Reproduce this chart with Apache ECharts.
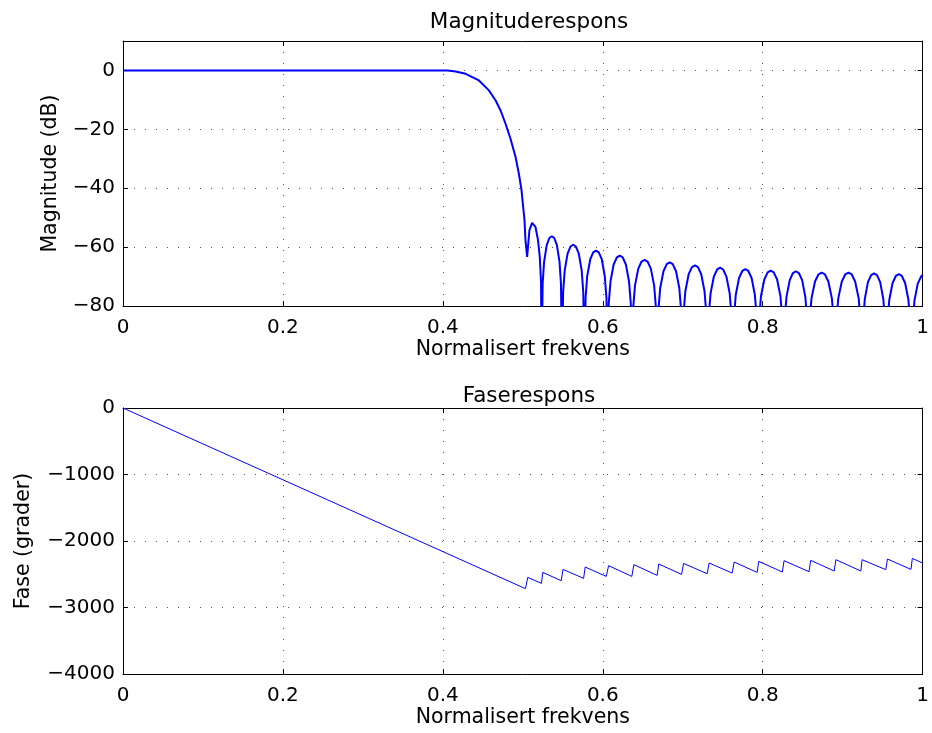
<!DOCTYPE html>
<html>
<head>
<meta charset="utf-8">
<script src="https://cdn.jsdelivr.net/npm/echarts@6/dist/echarts.min.js"></script>
<style>
html,body{margin:0;padding:0;background:#fff;}
#c{width:932px;height:733px;}
</style>
</head>
<body>
<div id="c"></div>
<script>
// ---- Data ----
// Magnitude response (dB) vs normalised frequency
var magX = [0, 0.40, 0.4057, 0.416, 0.4285, 0.4451, 0.4576, 0.466, 0.4722, 0.4784, 0.4846, 0.4909, 0.495, 0.4984, 0.5004, 0.5021, 0.5033, 0.5054,
  0.5083, 0.5116, 0.5158, 0.519, 0.5212, 0.5228, 0.5235,
  0.5248, 0.5266, 0.5299, 0.5332, 0.5363, 0.5393, 0.5426, 0.5459, 0.5477, 0.549,
  0.5504, 0.5524, 0.556, 0.5596, 0.563, 0.5664, 0.57, 0.5736, 0.5756, 0.577,
  0.5785, 0.5805, 0.5843, 0.588, 0.5915, 0.595, 0.5988, 0.6025, 0.6046, 0.606,
  0.6075, 0.6097, 0.6136, 0.6176, 0.6213, 0.6249, 0.6289, 0.6328, 0.635, 0.6365,
  0.6381, 0.6403, 0.6444, 0.6485, 0.6523, 0.656, 0.6601, 0.6642, 0.6664, 0.668,
  0.6696, 0.6718, 0.6759, 0.68, 0.6838, 0.6875, 0.6916, 0.6957, 0.6979, 0.6995,
  0.7011, 0.7033, 0.7074, 0.7115, 0.7153, 0.719, 0.7231, 0.7272, 0.7294, 0.731,
  0.7326, 0.7348, 0.7389, 0.743, 0.7468, 0.7505, 0.7546, 0.7587, 0.7609, 0.7625,
  0.7641, 0.7663, 0.7704, 0.7745, 0.7783, 0.782, 0.7861, 0.7902, 0.7924, 0.794,
  0.7956, 0.7978, 0.802, 0.8062, 0.81, 0.8138, 0.818, 0.8222, 0.8244, 0.826,
  0.8276, 0.8297, 0.8338, 0.8378, 0.8415, 0.8452, 0.8493, 0.8533, 0.8555, 0.857,
  0.8587, 0.861, 0.8654, 0.8697, 0.8738, 0.8778, 0.8821, 0.8865, 0.8888, 0.8905,
  0.8922, 0.8945, 0.8989, 0.9032, 0.9073, 0.9113, 0.9156, 0.92, 0.9223, 0.924,
  0.9255, 0.9277, 0.9316, 0.9356, 0.9393, 0.9429, 0.9469, 0.9508, 0.953, 0.9545,
  0.9561, 0.9583, 0.9624, 0.9665, 0.9703, 0.974, 0.9781, 0.9822, 0.9844, 0.986,
  0.9876, 0.9898, 0.9939, 0.998, 1.0];
var magY = [0, 0, 0, -0.34, -1.13, -3.39, -6.78, -10.2, -13.6, -18.1, -23.2, -29.4, -35.0, -40.7, -46.3, -50.8, -57.6, -63.3,
  -54.2, -51.8, -53.1, -57.6, -63.3, -72, -100,
  -72.4, -65.0, -59.3, -56.9, -56.3, -56.9, -59.3, -65.0, -72.4, -100,
  -75.3, -67.9, -62.2, -59.8, -59.2, -59.8, -62.2, -67.9, -75.3, -100,
  -77.3, -69.9, -64.2, -61.8, -61.2, -61.8, -64.2, -69.9, -77.3, -100,
  -79.0, -71.6, -65.9, -63.5, -62.9, -63.5, -65.9, -71.6, -79.0, -100,
  -80.4, -73.0, -67.3, -64.9, -64.3, -64.9, -67.3, -73.0, -80.4, -100,
  -81.3, -73.9, -68.2, -65.8, -65.2, -65.8, -68.2, -73.9, -81.3, -100,
  -82.3, -74.9, -69.2, -66.8, -66.2, -66.8, -69.2, -74.9, -82.3, -100,
  -83.1, -75.7, -70.0, -67.6, -67.0, -67.6, -70.0, -75.7, -83.1, -100,
  -83.6, -76.2, -70.5, -68.1, -67.5, -68.1, -70.5, -76.2, -83.6, -100,
  -84.1, -76.7, -71.0, -68.6, -68.0, -68.6, -71.0, -76.7, -84.1, -100,
  -84.3, -76.9, -71.2, -68.8, -68.2, -68.8, -71.2, -76.9, -84.3, -100,
  -84.8, -77.4, -71.7, -69.3, -68.7, -69.3, -71.7, -77.4, -84.8, -100,
  -84.8, -77.4, -71.7, -69.3, -68.7, -69.3, -71.7, -77.4, -84.8, -100,
  -85.0, -77.6, -71.9, -69.5, -68.9, -69.5, -71.9, -77.6, -85.0, -100,
  -85.3, -77.9, -72.2, -69.8, -69.2, -69.8, -72.2, -77.9, -85.3, -100,
  -85.5, -78.1, -72.4, -70.0, -69.5];

// Phase response (degrees) vs normalised frequency
var phaseX = [0, 0.5033, 0.5062, 0.5233, 0.525, 0.548, 0.5503, 0.576, 0.578, 0.6043, 0.6073, 0.6363, 0.6389, 0.668, 0.67, 0.6986, 0.701,
  0.7306, 0.733, 0.7618, 0.7643, 0.793, 0.795, 0.8246, 0.8267, 0.8579, 0.86, 0.8894, 0.8915, 0.9227, 0.9243, 0.9539, 0.956, 0.9854, 0.9871, 1.0];
var phaseY = [0, -2717, -2547, -2637, -2472, -2597, -2427, -2562, -2391, -2532, -2371, -2532, -2356, -2517, -2346, -2502, -2337,
  -2492, -2331, -2482, -2316, -2472, -2306, -2466, -2296, -2461, -2291, -2451, -2281, -2451, -2281, -2431, -2271, -2427, -2262, -2331];

var xTicks = [0, 0.2, 0.4, 0.6, 0.8, 1];
var magTicks = [-80, -60, -40, -20, 0];
var phaseTicks = [-4000, -3000, -2000, -1000, 0];

var titles = ['Magnituderespons', 'Faserespons'];
var xName = 'Normalisert frekvens';
var yNames = ['Magnitude (dB)', 'Fase (grader)'];

// ---- Chart ----
function pairs(xs, ys) { var o = []; for (var i = 0; i < xs.length; i++) o.push([xs[i], ys[i]]); return o; }
function fmt(v) { return String(v).replace('-', '\u2212'); }

var FONT = 'DejaVu Sans, Liberation Sans, Arial, sans-serif';
var gridLine = { show: true, lineStyle: { color: '#555', width: 1, type: [1, 10] } };
var axLine = { show: true, onZero: false, lineStyle: { color: '#000', width: 1 } };
var tick = { show: true, inside: true, length: 5, lineStyle: { color: '#000' } };
var lblStyle = { color: '#000', fontFamily: FONT, fontSize: 20 };
var nameStyle = { color: '#000', fontFamily: FONT, fontSize: 20.5 };

function xAx(gi, pos) {
  var main = pos === 'bottom';
  return {
    type: 'value', gridIndex: gi, position: pos, min: 0, max: 1, interval: xTicks[1] - xTicks[0],
    axisLine: axLine, axisTick: tick,
    splitLine: main ? gridLine : { show: false },
    axisLabel: main ? Object.assign({ show: true, margin: 12, formatter: function (v) { return fmt(v); } }, lblStyle) : { show: false },
    name: main ? xName : '', nameLocation: 'middle', nameGap: 33,
    nameTextStyle: nameStyle
  };
}
function yAx(gi, pos, ticks, max) {
  var main = pos === 'left';
  return {
    type: 'value', gridIndex: gi, position: pos, min: ticks[0], max: max, interval: ticks[1] - ticks[0],
    axisLine: axLine, axisTick: tick,
    splitLine: main ? gridLine : { show: false },
    axisLabel: main ? Object.assign({ show: true, margin: 8, showMaxLabel: max === ticks[ticks.length - 1],
      formatter: function (v) { return v > ticks[ticks.length - 1] ? '' : fmt(v); } }, lblStyle) : { show: false },
    name: main ? yNames[gi] : '', nameLocation: 'middle', nameRotate: 90,
    nameGap: gi === 0 ? 62 : 89,
    nameTextStyle: nameStyle
  };
}

var chart = echarts.init(document.getElementById('c'), null, { renderer: 'canvas' });
chart.setOption({
  backgroundColor: '#fff',
  animation: false,
  title: [
    { text: titles[0], left: 524, top: 6, textAlign: 'center', textStyle: { color: '#000', fontFamily: FONT, fontSize: 21.5, fontWeight: 'normal' } },
    { text: titles[1], left: 524, top: 380, textAlign: 'center', textStyle: { color: '#000', fontFamily: FONT, fontSize: 21.5, fontWeight: 'normal' } }
  ],
  grid: [
    { left: 123, top: 41, width: 802, height: 265, containLabel: false },
    { left: 123, top: 408, width: 802, height: 266, containLabel: false }
  ],
  xAxis: [xAx(0, 'bottom'), xAx(0, 'top'), xAx(1, 'bottom'), xAx(1, 'top')],
  yAxis: [yAx(0, 'left', magTicks, 10), yAx(0, 'right', magTicks, 10), yAx(1, 'left', phaseTicks, 0), yAx(1, 'right', phaseTicks, 0)],
  series: [
    { type: 'line', xAxisIndex: 0, yAxisIndex: 0, data: pairs(magX, magY), showSymbol: false, clip: true,
      lineStyle: { color: '#0000ff', width: 2 }, itemStyle: { color: '#0000ff' } },
    { type: 'line', xAxisIndex: 2, yAxisIndex: 2, data: pairs(phaseX, phaseY), showSymbol: false, clip: true,
      lineStyle: { color: '#0000ff', width: 1 }, itemStyle: { color: '#0000ff' } }
  ]
});
</script>
</body>
</html>
